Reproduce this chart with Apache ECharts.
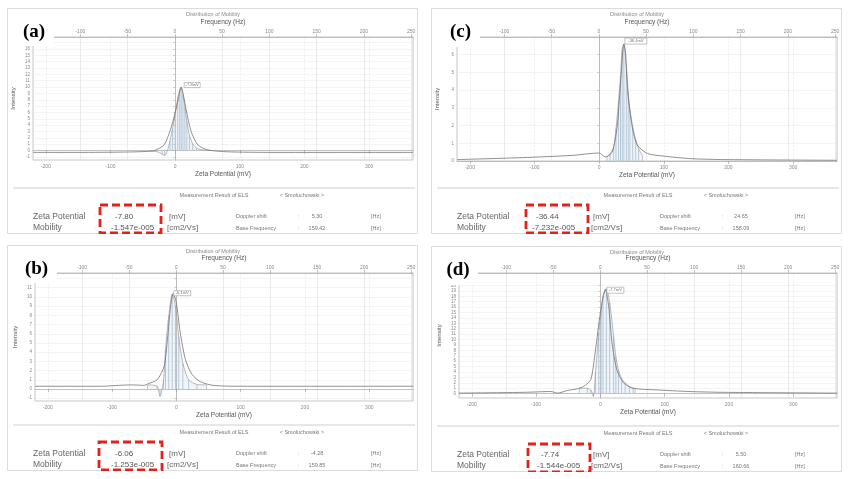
<!DOCTYPE html>
<html>
<head>
<meta charset="utf-8">
<script src="https://cdn.jsdelivr.net/npm/echarts@6/dist/echarts.min.js"></script>
<style>
  body { margin: 0; background: #fff; width: 848px; height: 479px; position: relative; overflow: hidden; }
  .panel { position: absolute; width: 411px; height: 226px; }
</style>
</head>
<body>
<div id="panelA" class="panel" style="left:7px;top:8px"></div>
<div id="panelC" class="panel" style="left:431px;top:8px"></div>
<div id="panelB" class="panel" style="left:7px;top:245px"></div>
<div id="panelD" class="panel" style="left:431px;top:246px"></div>
<script>
// shared axes: zeta potential (mV) below, frequency (Hz) on top
const zetaTicks = [-200, -100, 0, 100, 200, 300];
const zetaRange = [-220, 368];
const freqRange = [-150, 252];

// (a)  [mV, intensity]
const rawA = [[-220,-0.3],[-150,-0.3],[-80,-0.25],[-45,-0.15],[-32,0],[-17,0.9],[-6,3.7],[0,6],[4.6,8],[9.3,10],[13,8.6],[17,6.4],[24.7,3],[35,0.9],[50,0.1],[80,-0.2],[150,-0.3],[250,-0.3],[368,-0.3]];
const fitA = [[-40,-0.1],[-28,-0.2],[-20,-0.6],[-16.5,-0.8],[-12,0],[-8,1.5],[-4,3.5],[0,5.8],[4,8.3],[7,9.6],[9.3,10],[12,8.8],[15,6.8],[18,4.6],[22,2.4],[27,1.1],[33,0.4],[42,0.1],[55,0]];
const yTicksA = [-1,0,1,2,3,4,5,6,7,8,9,10,11,12,13,14,15,16,17];
const yRangeA = [-1.5, 17.9];
const tableA = ['-7.80', '-1.547e-005', '5.30', '159.42'];

// (b)
const rawB = [[-220,0.3],[-120,0.3],[-70,0.45],[-50,0.4],[-45,0.55],[-30,1.0],[-19,2.5],[-14,5.4],[-9,9],[-5,10.4],[0,9.3],[6,6.1],[14,3.2],[24,1.6],[37,0.8],[57,0.4],[100,0.3],[200,0.3],[368,0.3]];
const fitB = [[-45,0.45],[-30,0.3],[-25.5,-0.8],[-20,1],[-17,4.3],[-12,7.9],[-6.6,10.3],[-1.5,9],[3.6,5.7],[10,2.8],[19,1],[32,0.5],[47,0.45]];
const yTicksB = [-1,0,1,2,3,4,5,6,7,8,9,10,11,12];
const yRangeB = [-1.3, 12.6];
const tableB = ['-6.06', '-1.253e-005', '-4.28', '159.85'];

// (c)
const rawC = [[-220,0.08],[-119,0.19],[-40,0.32],[-14,0.42],[0,0.45],[9.4,0.23],[20,0.5],[27.7,1.9],[33,4.4],[37.2,6.5],[38.2,6.6],[40.8,6.1],[44.5,3.8],[51.3,1.9],[59,0.9],[75,0.42],[101,0.27],[143,0.13],[195,0.08],[368,0.04]];
const fitC = [[12,0.23],[17,0.4],[22.5,0.8],[26,1.8],[30,3.4],[33,4.8],[35.6,6.3],[38.2,6.6],[42,5.3],[45,3.9],[47.6,2.9],[52,1.9],[56.5,1.2],[61,0.7],[67,0.3]];
const yTicksC = [0,1,2,3,4,5,6];
const yRangeC = [0, 7];
const tableC = ['-36.44', '-7.232e-005', '24.65', '158.09'];

// (d)
const rawD = [[-220,0.1],[-118,0.25],[-77,0.4],[-67,0.1],[-51,0.6],[-36,0.9],[-26,1.35],[-15,2.6],[-7.7,8.1],[0,15],[7.7,19.3],[12.8,16.2],[18,9.4],[25.6,4.4],[36,2],[51,1],[87,0.7],[138,0.4],[190,0.25],[368,0.1]];
const fitD = [[-33,1],[-20.5,1],[-15,0.7],[-11,-0.5],[-7.7,3.8],[-2.6,11.2],[1,15],[4,18],[9.2,19.4],[14.4,16.8],[20.5,10.6],[24,6.8],[28,4.4],[33,2.8],[38.5,2],[45,1.3],[51,1],[54,1]];
const yTicksD = [0,1,2,3,4,5,6,7,8,9,10,11,12,13,14,15,16,17,18,19,20];
const yRangeD = [-0.8, 22.3];
const tableD = ['-7.74', '-1.544e-005', '5.50', '160.66'];

const font = 'Liberation Sans';

function txt(x, y, text, size, color, align, extra) {
  return Object.assign({
    type: 'text', x: x, y: y, silent: true,
    style: {
      text: text, fontSize: size, fontFamily: font, fill: color,
      textAlign: align || 'left', align: align || 'left',
      textVerticalAlign: 'middle', verticalAlign: 'middle'
    }
  }, extra || {});
}

function buildOption(p) {
  const g = [
    {type: 'rect', shape: {x: 0.5, y: 0.5, width: 410, height: 225}, style: {fill: 'none', stroke: '#dcdcdc', lineWidth: 1}, silent: true},
    txt(206, 6, 'Distribution of Mobility', 5.5, '#888', 'center'),
    {type: 'line', shape: {x1: 6, y1: 180, x2: 408, y2: 180}, style: {stroke: '#cfcfcf', lineWidth: 1}, silent: true},
    txt(207, 187, 'Measurement Result of ELS', 5.5, '#777', 'center'),
    txt(295, 187, '< Smoluchowski >', 5.5, '#777', 'center'),
    // table rows
    txt(26, 208.5, 'Zeta Potential', 8.5, '#666'),
    txt(88, 208.5, ':', 6, '#aaa'),
    txt(p.valueX, 208.5, p.table[0], 8, '#555'),
    txt(162, 208.5, '[mV]', 8, '#666'),
    txt(229, 208.5, 'Doppler shift', 5.5, '#777'),
    txt(291, 208.5, ':', 5.5, '#999'),
    txt(310, 208.5, p.table[2], 5.5, '#777', 'center'),
    txt(364, 208.5, '[Hz]', 5.5, '#777'),
    txt(26, 220, 'Mobility', 8.5, '#666'),
    txt(88, 220, ':', 6, '#aaa'),
    txt(p.valueX - 4, 220, p.table[1], 8, '#555'),
    txt(160, 220, '[cm2/Vs]', 8, '#666'),
    txt(229, 220, 'Base Frequency', 5.5, '#777'),
    txt(291, 220, ':', 5.5, '#999'),
    txt(310, 220, p.table[3], 5.5, '#777', 'center'),
    txt(364, 220, '[Hz]', 5.5, '#777'),
    // panel letter
    {type: 'rect', z: 100, shape: p.letterBox, style: {fill: '#fff'}, silent: true},
    {type: 'text', z: 101, x: p.letterBox.x + p.letterBox.width / 2, y: p.letterBox.y + p.letterBox.height / 2 + 1, silent: true,
      style: {text: '(' + p.letter + ')', fontSize: 19, fontWeight: 'bold', fontFamily: 'Liberation Serif', fill: '#000',
        textAlign: 'center', align: 'center', textVerticalAlign: 'middle', verticalAlign: 'middle'}},
    // red highlight box
    {type: 'rect', z: 100, shape: p.redBox, style: {fill: 'none', stroke: '#e3201b', lineWidth: 2.8, lineDash: [8, 4]}, silent: true}
  ];

  return {
    animation: false,
    textStyle: {fontFamily: font},
    grid: Object.assign({show: true, borderColor: '#b0b0b0', borderWidth: 0.7, backgroundColor: '#fff',
      containLabel: false, outerBoundsMode: 'none'}, p.grid),
    xAxis: [
      {
        type: 'value', position: 'bottom', min: zetaRange[0], max: zetaRange[1],
        name: 'Zeta Potential (mV)', nameLocation: 'middle', nameGap: 10.5, nameMoveOverlap: false,
        nameTextStyle: {fontSize: 6.5, color: '#555'},
        axisLine: {lineStyle: {color: '#aaa', width: 0.7}},
        axisTick: {customValues: zetaTicks, length: 3, lineStyle: {color: '#999', width: 0.6}},
        axisLabel: {customValues: zetaTicks, fontSize: 5, color: '#888', margin: 4},
        splitLine: {show: true, lineStyle: {color: '#e6e6e6', width: 0.6, type: 'dashed'}}
      },
      {
        type: 'value', position: 'top', min: freqRange[0], max: freqRange[1], interval: 50,
        name: 'Frequency (Hz)', nameLocation: 'middle', nameGap: 11.5, nameMoveOverlap: false,
        nameTextStyle: {fontSize: 6.5, color: '#555'},
        axisLine: {lineStyle: {color: '#aaa', width: 0.7}},
        axisTick: {length: 3, lineStyle: {color: '#999', width: 0.6}},
        axisLabel: {fontSize: 5, color: '#888', margin: 3},
        splitLine: {show: true, lineStyle: {color: '#dedede', width: 0.6}}
      }
    ],
    yAxis: {
      type: 'value', min: p.yRange[0], max: p.yRange[1],
      name: 'Intensity', nameLocation: 'middle', nameGap: 17, nameMoveOverlap: false,
      nameTextStyle: {fontSize: 6, color: '#555'},
      axisLine: {show: true, lineStyle: {color: '#aaa', width: 0.7}},
      axisTick: {customValues: p.yTicks, length: 2, lineStyle: {color: '#aaa', width: 0.5}},
      axisLabel: {customValues: p.yTicks, fontSize: 4.5, color: '#888', margin: 3},
      splitLine: {show: true, lineStyle: {color: '#ececec', width: 0.6}}
    },
    series: [
      {type: 'bar', data: p.fit, barWidth: 0.7, itemStyle: {color: '#b4c6d6'}, silent: true},
      {type: 'line', data: p.fit, symbol: 'none', smooth: 0.25, silent: true,
        lineStyle: {color: '#9b9b9b', width: 0.7},
        areaStyle: {color: 'rgba(190,210,228,0.3)'}},
      {type: 'line', data: p.raw, symbol: 'none', smooth: 0.25, silent: true,
        lineStyle: {color: '#737373', width: 0.8},
        markPoint: {
          symbol: 'rect', symbolSize: p.peakSize, symbolOffset: p.peakOffset, silent: true,
          itemStyle: {color: '#fff', borderColor: '#999', borderWidth: 0.5},
          label: {show: true, position: 'inside', fontSize: 4, color: '#777', formatter: p.peakText},
          data: [{type: 'max', name: 'peak'}]
        }}
    ],
    graphic: g
  };
}

const panels = [
  {id: 'panelA', letter: 'a', raw: rawA, fit: fitA, yTicks: yTicksA, yRange: yRangeA, table: tableA,
    grid: {left: 26, top: 29, width: 380, height: 123}, valueX: 108,
    letterBox: {x: 7, y: 8, width: 40, height: 30}, redBox: {x: 93, y: 197, width: 61, height: 28},
    peakText: '-7.8mV', peakSize: [16, 5], peakOffset: [11, -2]},
  {id: 'panelC', letter: 'c', raw: rawC, fit: fitC, yTicks: yTicksC, yRange: yRangeC, table: tableC,
    grid: {left: 26, top: 29, width: 380, height: 124}, valueX: 105,
    letterBox: {x: 10, y: 8, width: 39, height: 31}, redBox: {x: 95, y: 197, width: 62, height: 28},
    peakText: '-36.4mV', peakSize: [22, 6], peakOffset: [12, -3]},
  {id: 'panelB', letter: 'b', raw: rawB, fit: fitB, yTicks: yTicksB, yRange: yRangeB, table: tableB,
    grid: {left: 28, top: 28, width: 378, height: 128}, valueX: 108,
    letterBox: {x: 9, y: 8, width: 41, height: 30}, redBox: {x: 92, y: 197, width: 63, height: 28},
    peakText: '-6.1mV', peakSize: [17, 5], peakOffset: [9, 0]},
  {id: 'panelD', letter: 'd', raw: rawD, fit: fitD, yTicks: yTicksD, yRange: yRangeD, table: tableD,
    grid: {left: 28, top: 27, width: 378, height: 125}, valueX: 110,
    letterBox: {x: 7, y: 7, width: 40, height: 32}, redBox: {x: 97, y: 198, width: 62, height: 28},
    peakText: '-7.7mV', peakSize: [17, 6], peakOffset: [10, 1]}
];

panels.forEach(p => {
  const chart = echarts.init(document.getElementById(p.id));
  chart.setOption(buildOption(p));
});
</script>
</body>
</html>
